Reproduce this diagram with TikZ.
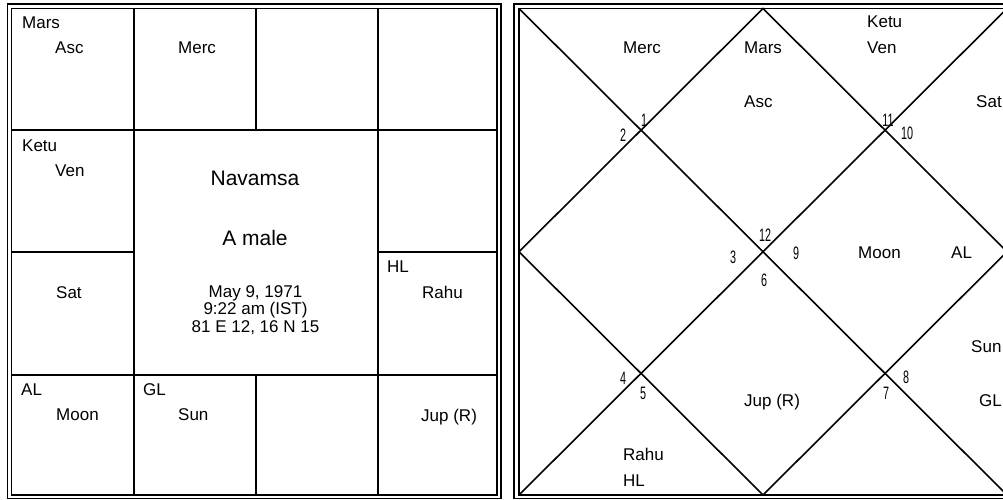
\documentclass[tikz,border=0pt]{standalone}
\usepackage{fontspec}
\setmainfont{Liberation Sans}
\newfontfamily\numfont{Liberation Sans}[FakeStretch=0.6]
\usetikzlibrary{positioning}

\begin{document}
\begin{tikzpicture}[x=1pt, y=-1pt]
	% 样式
	\tikzset{
		frame line/.style={line width=1.5pt},
		grid line/.style={line width=2pt},
		diag line/.style={line width=1.6pt},
		planet/.style={anchor=base west, inner sep=0pt, font=\fontsize{17}{17}\selectfont},
		title/.style={anchor=base, inner sep=0pt, font=\fontsize{21}{21}\selectfont},
		info/.style={anchor=base, inner sep=0pt, font=\fontsize{17}{17}\selectfont},
		house/.style={inner sep=0pt, font=\numfont\fontsize{18}{18}\selectfont}
	}
	\useasboundingbox (0,0) rectangle (1003,500);
	\clip (0,0) rectangle (1003,500);
	
	% 左图：双线边框
	\draw[frame line] (7.5,4) rectangle (501,498.5);
	\draw[frame line] (11.5,8.5) rectangle (497,495);
	
	% 左图：格线
	\foreach \x in {133.5,378} {
		\draw[grid line] (\x,8.5) -- (\x,495);
	}
	\foreach \y in {130,374.5} {
		\draw[grid line] (11.5,\y) -- (497,\y);
	}
	\draw[grid line] (256,8.5) -- (256,130);
	\draw[grid line] (256,374.5) -- (256,495);
	\draw[grid line] (11.5,252) -- (133.5,252);
	\draw[grid line] (378,252) -- (497,252);
	
	% 左图：行星
	\foreach \n/\x/\y/\t in {mars/22/29/Mars, asc/55/54/Asc, merc/178/54/Merc,
		ketu/22/151/Ketu, ven/55/176/Ven, sat/56/298/Sat, hl/387/272/HL,
		rahu/422/298/Rahu, al/21/395/AL, moon/56/420/Moon, gl/143/395/GL,
		sun/178/420/Sun, jup/421/421/{Jup (R)}} {
		\node[planet] (L\n) at (\x,\y) {\t};
	}
	
	% 左图：中间文字
	\node[title] (navamsa) at (255,185) {Navamsa};
	\node[title] (name) at (255,245.5) {A male};
	\foreach \n/\y/\t in {date/297/{May 9, 1971}, time/314/{9:22 am (IST)},
		place/332/{81 E 12, 16 N 15}} {
		\node[info] (\n) at (255.5,\y) {\t};
	}
	
	% 右图：双线边框
	\draw[frame line] (514,4) rectangle (1012,498.5);
	\draw[frame line] (519,8.5) rectangle (1007,495);
	
	% 右图：对角线与菱形
	\coordinate (tl) at (519,8.5);
	\coordinate (tr) at (1007,8.5);
	\coordinate (bl) at (519,495);
	\coordinate (br) at (1007,495);
	\coordinate (top) at (763,8.5);
	\coordinate (bot) at (763,495);
	\coordinate (lft) at (519,251.75);
	\coordinate (rgt) at (1007,251.75);
	\draw[diag line] (tl) -- (br);
	\draw[diag line] (tr) -- (bl);
	\draw[diag line] (top) -- (rgt) -- (bot) -- (lft) -- cycle;
	
	% 右图：行星
	\foreach \n/\x/\y/\t in {merc/623/54/Merc, mars/744/54/Mars, asc/744/107/Asc,
		ketu/867/28/Ketu, ven/867/54/Ven, sat/976/107/Sat, moon/858/258/Moon,
		al/951/258/AL, sun/971/352/Sun, gl/979/406/GL, jup/744/406/{Jup (R)},
		rahu/623/460/Rahu, hl/623/486/HL} {
		\node[planet] (R\n) at (\x,\y) {\t};
	}
	
	% 右图：宫位编号
	\foreach \i/\x/\y in {1/644/120, 2/623/135, 3/733/257, 12/765/235, 6/764/280,
		9/796/253, 11/888/120, 10/907/133, 4/623/378, 5/643/393, 7/886/393, 8/906/377} {
		\node[house] (h\i) at (\x,\y) {\i};
	}
\end{tikzpicture}
\end{document}
